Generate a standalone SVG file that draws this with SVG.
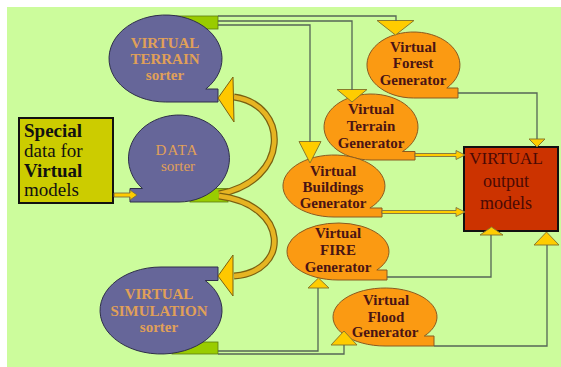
<svg xmlns="http://www.w3.org/2000/svg" width="561" height="367" viewBox="0 0 561 367">
<defs>
<style>
.bg{fill:#ccfc9c}
.sorter{fill:#666699;stroke:#2e2e4a;stroke-width:1}
.gen{fill:#fb9a12;stroke:#8a5a20;stroke-width:1}
.grn{fill:#99cc00;stroke:#5a7a10;stroke-width:0.8}
.tri{fill:#ffcc00;stroke:#8a7a2a;stroke-width:1}
.ln{fill:none;stroke:#556655;stroke-width:1.3}
.st{font-family:"Liberation Serif","Times New Roman",serif;font-size:15px;fill:#e0a058;text-anchor:middle}
.gt{font-family:"Liberation Serif","Times New Roman",serif;font-size:15px;font-weight:bold;fill:#4a1414;text-anchor:middle}
.ba{fill:#ffcc00;stroke:#7a7040;stroke-width:0.9}
</style>
</defs>
<rect class="bg" x="7" y="7" width="554" height="360"/>

<g id="special">
<rect x="19" y="118" width="94" height="85" fill="#cccc00" stroke="#111" stroke-width="2"/>
<text x="24" y="137" font-family="Liberation Serif,serif" font-size="19" font-weight="bold" fill="#111">Special</text>
<text x="24" y="157" font-family="Liberation Serif,serif" font-size="19" fill="#111">data for</text>
<text x="24" y="177" font-family="Liberation Serif,serif" font-size="19" font-weight="bold" fill="#111">Virtual</text>
<text x="24" y="196" font-family="Liberation Serif,serif" font-size="19" fill="#111">models</text>
</g>

<g id="terrain-sorter">
<rect class="grn" x="175" y="16" width="43" height="13"/>
<path class="sorter" d="M165.5,102 A56.5,43.5 0 1 1 205.8,89 L218,89 L218,102 Z"/>
<text class="st" font-weight="bold" x="165" y="48">VIRTUAL</text>
<text class="st" font-weight="bold" x="165" y="64">TERRAIN</text>
<text class="st" font-weight="bold" x="165" y="80">sorter</text>
</g>

<g id="data-sorter">
<rect class="grn" x="190" y="188.5" width="38" height="13.5"/>
<path class="sorter" d="M179,202 A50.5,43.5 0 1 0 142.4,188.5 L130,188.5 L130,202 Z"/>
<text class="st" x="177" y="155" letter-spacing="1">DATA</text>
<text class="st" x="178" y="171">sorter</text>
</g>

<g id="simulation-sorter">
<rect class="grn" x="172" y="342" width="46" height="12"/>
<path class="sorter" d="M161,267 A61,43.5 0 1 0 205.2,280.5 L218,280.5 L218,267 Z"/>
<text class="st" font-weight="bold" x="159" y="299">VIRTUAL</text>
<text class="st" font-weight="bold" x="159" y="316">SIMULATION</text>
<text class="st" font-weight="bold" x="159" y="332">sorter</text>
</g>

<g id="forest-gen">
<path class="gen" d="M413.5,98 A46.5,33 0 1 1 446.8,88 L458,88 L458,98 Z"/>
<polygon class="tri" points="377,20.5 414,20.5 395.5,35"/>
<text class="gt" x="413" y="52">Virtual</text>
<text class="gt" x="413" y="68">Forest</text>
<text class="gt" x="413" y="85">Generator</text>
</g>

<g id="terrain-gen">
<path class="gen" d="M371,160 A47,33 0 1 1 402.5,151.5 L415,151.5 L415,160 Z"/>
<polygon class="tri" points="337,89.5 367,89.5 352,102"/>
<text class="gt" x="371" y="114">Virtual</text>
<text class="gt" x="371" y="131">Terrain</text>
<text class="gt" x="371" y="148">Generator</text>
</g>

<g id="buildings-gen">
<path class="gen" d="M334,217 A51,31 0 1 1 369.9,208 L382,208 L382,217 Z"/>
<polygon class="tri" points="299,141.5 321,141.5 310,163"/>
<text class="gt" x="333" y="176">Virtual</text>
<text class="gt" x="333" y="192">Buildings</text>
<text class="gt" x="333" y="208">Generator</text>
</g>

<g id="fire-gen">
<path class="gen" d="M338,280 A51,28.5 0 1 1 376.8,270 L387,270 L387,280 Z"/>
<polygon class="tri" points="308,288 329,288 318.5,278"/>
<text class="gt" x="338" y="238">Virtual</text>
<text class="gt" x="338" y="255">FIRE</text>
<text class="gt" x="338" y="272">Generator</text>
</g>

<g id="flood-gen">
<path class="gen" d="M385,346 A52,29 0 1 1 424.3,336 L434,336 L434,346 Z"/>
<polygon class="tri" points="331,345 357,345 344,331"/>
<text class="gt" x="386" y="305">Virtual</text>
<text class="gt" x="386" y="322">Flood</text>
<text class="gt" x="385" y="337">Generator</text>
</g>

<g id="output">
<rect x="464" y="147" width="94" height="84" fill="#cc3300" stroke="#111" stroke-width="2"/>
<text x="506" y="164" font-family="Liberation Serif,serif" font-size="17" fill="#4a0a05" text-anchor="middle">VIRTUAL</text>
<text x="506" y="187" font-family="Liberation Serif,serif" font-size="18" fill="#4a0a05" text-anchor="middle">output</text>
<text x="506" y="209" font-family="Liberation Serif,serif" font-size="18" fill="#4a0a05" text-anchor="middle">models</text>
<polygon class="tri" points="529,139 545,139 537,147"/>
<polygon class="tri" points="480,235 503,235 491.5,227"/>
<polygon class="tri" points="534,245 559,245 546.5,232"/>
</g>

<g id="connectors">
<polyline class="ln" points="218,16 396,16 396,21"/>
<polyline class="ln" points="218,21 352,21 352,90"/>
<polyline class="ln" points="218,25 310,25 310,142"/>
<polyline class="ln" points="458,93 537,93 537,139"/>
<polyline class="ln" points="387,277 491,277 491,235"/>
<polyline class="ln" points="434,346 547,346 547,245"/>
<polyline class="ln" points="218,351 318,351 318,288"/>
<polyline class="ln" points="218,354 344,354 344,345"/>
<polygon class="ba" points="114,193 130,193 130,190 137,195 130,200 130,197 114,197"/>
<polygon class="ba" points="415,153.5 456,153.5 456,150.5 465,155 456,159.5 456,156.5 415,156.5"/>
<polygon class="ba" points="382,210.5 456,210.5 456,207.5 465,212 456,216.5 456,213.5 382,213.5"/>
<path d="M219,194 C290,181 290,105 234,97" fill="none" stroke="#7a6010" stroke-width="7"/>
<path d="M219,194 C290,181 290,105 234,97" fill="none" stroke="#e6b422" stroke-width="4.6"/>
<path d="M219,196 C290,205 290,272 234,276" fill="none" stroke="#7a6010" stroke-width="7"/>
<path d="M219,196 C290,205 290,272 234,276" fill="none" stroke="#e6b422" stroke-width="4.6"/>
<polygon points="233,77 218,98 234,122" fill="#ffc800" stroke="#7a6010" stroke-width="1"/>
<polygon points="233,255 218,276 233,296" fill="#ffc800" stroke="#7a6010" stroke-width="1"/>
</g>
</svg>
